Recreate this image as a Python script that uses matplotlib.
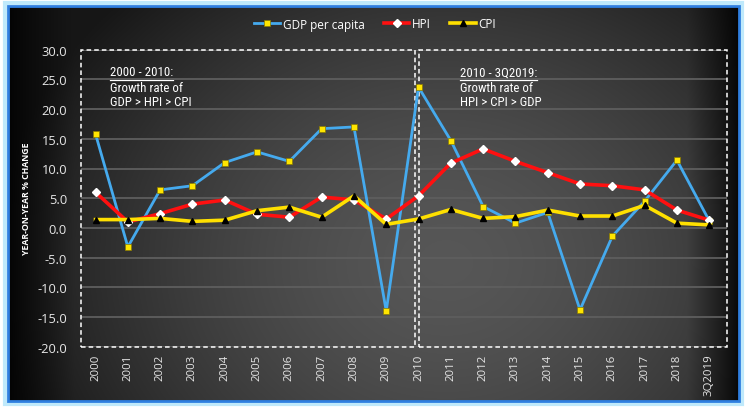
import numpy as np
import matplotlib
matplotlib.use("Agg")
import matplotlib.pyplot as plt
from matplotlib.lines import Line2D
from matplotlib.patches import Rectangle
import matplotlib.font_manager as fm

years = ["2000", "2001", "2002", "2003", "2004", "2005", "2006", "2007", "2008", "2009",
         "2010", "2011", "2012", "2013", "2014", "2015", "2016", "2017", "2018", "3Q2019"]
gdp_per_capita = [15.8, -3.2, 6.4, 7.1, 11.0, 12.8, 11.2, 16.7, 17.0, -14.0,
                  23.7, 14.7, 3.6, 0.8, 2.6, -13.8, -1.4, 4.5, 11.4, 1.2]
hpi = [6.0, 1.0, 2.4, 4.0, 4.7, 2.3, 1.8, 5.2, 4.7, 1.5,
       5.4, 10.9, 13.3, 11.2, 9.3, 7.4, 7.1, 6.4, 3.0, 1.3]
cpi = [1.4, 1.4, 1.6, 1.1, 1.3, 2.9, 3.5, 1.8, 5.4, 0.6,
       1.5, 3.1, 1.6, 1.9, 3.0, 2.0, 2.0, 3.8, 0.8, 0.5]
yticks = [-20, -15, -10, -5, 0, 5, 10, 15, 20, 25, 30]

def pick(fams):
    avail = {f.name for f in fm.fontManager.ttflist}
    for f in fams:
        if f in avail:
            return f
    return "DejaVu Sans"

FONT = pick(["Open Sans", "Lato", "DejaVu Sans"])
NARROW = pick(["Liberation Sans Narrow", "Roboto Condensed", "Liberation Sans"])
plt.rcParams['font.family'] = [FONT, 'DejaVu Sans']

W, H = 750, 410
fig = plt.figure(figsize=(W / 100, H / 100), dpi=100, facecolor="white")

# outer glow + border
fig.patches.append(Rectangle((5 / W, 1 - 405 / H), 737 / W, 401 / H, transform=fig.transFigure,
                             facecolor="none", edgecolor="#bfe9fb", lw=3, zorder=0))
# background panel gradient
bx0, by0, bx1, by1 = 8, 7, 739, 402
bg = fig.add_axes([bx0 / W, 1 - by1 / H, (bx1 - bx0) / W, (by1 - by0) / H], zorder=0)
nx, ny = 400, 220
u = np.linspace(0, 1, nx)[None, :]
v = np.linspace(0, 1, ny)[:, None]
d = np.sqrt(((u - 0.6) / 0.62) ** 2 + ((v - 0.65) / 0.95) ** 2)
b = 0.09 + 0.25 * np.clip(1 - d ** 1.6, 0, 1)
edge = np.clip(u / 0.09, 0, 1) ** 0.8 * np.clip((1 - u) / 0.07, 0, 1) ** 0.8
b = b * (0.15 + 0.85 * edge)
img = np.dstack([b, b, b])
bg.imshow(img, aspect="auto", extent=[0, 1, 0, 1], interpolation="bilinear")
bg.set_axis_off()
fig.patches.append(Rectangle((bx0 / W, 1 - by1 / H), (bx1 - bx0) / W, (by1 - by0) / H,
                             transform=fig.transFigure, facecolor="none",
                             edgecolor="#2f7fe0", lw=2, zorder=5))

ax = fig.add_axes([81 / W, 1 - 347.7 / H, (727 - 81) / W, (347.7 - 50.7) / H], zorder=2)
ax.patch.set_alpha(0)
x = np.arange(len(years))
ax.set_xlim(-0.45, 19.55)
ax.set_ylim(-20, 30)
ax.set_yticks(yticks)
ax.set_yticklabels([f"{t:.1f}" for t in yticks])
ax.set_xticks(x)
ax.set_xticklabels(years, rotation=90)
for s in ax.spines.values():
    s.set_visible(False)
ax.tick_params(length=0, colors="#e6e6e6")
ax.tick_params(axis="x", pad=5, labelsize=8.2)
ax.tick_params(axis="y", pad=10, labelsize=9.3)
for t in yticks:
    ax.axhline(t, color="#5e5e5e", lw=1.3, zorder=1)

# dashed boxes
ax.add_patch(Rectangle((-0.45, -20), 10.35, 50, fill=False, edgecolor="white", lw=1.1,
                       ls=(0, (3, 2)), zorder=2, clip_on=False))
ax.add_patch(Rectangle((10.0, -20), 9.55, 50, fill=False, edgecolor="white", lw=1.1,
                       ls=(0, (3, 2)), zorder=2, clip_on=False))

ax.plot(x, gdp_per_capita, color="#45aaee", lw=2, marker="s", ms=5,
        mfc="#ffe500", mec="#8a7a00", mew=0.5, zorder=4, label="GDP per capita")
ax.plot(x, hpi, color="#ff1010", lw=2.6, marker="D", ms=3.6,
        mfc="white", mec="white", zorder=5, label="HPI")
ax.plot(x, cpi, color="#ffe000", lw=2.6, marker="^", ms=4.5,
        mfc="black", mec="black", zorder=6, label="CPI")

ax.set_ylabel("YEAR-ON-YEAR % CHANGE", color="white", fontsize=6.3, fontweight="bold")
ax.yaxis.set_label_coords((31 - 81) / 646, 0.5)

# annotations
def block(x0, title, lines):
    tt = fig.text(x0 / W, 1 - 73 / H, title, color="white", fontsize=9.3, family=NARROW,
                  va="center", ha="left", zorder=10)
    fig.canvas.draw()
    bb = tt.get_window_extent()
    fig.add_artist(Line2D([bb.x0 / W, bb.x1 / W], [1 - 80.5 / H, 1 - 80.5 / H],
                          transform=fig.transFigure, color="white", lw=0.9))
    for i, ln in enumerate(lines):
        fig.text(x0 / W, 1 - (88 + 14.5 * i) / H, ln, color="white", fontsize=9.3,
                 family=NARROW, va="center", ha="left", zorder=10)

block(110, "2000 - 2010:", ["Growth rate of", "GDP > HPI > CPI"])
block(460, "2010 - 3Q2019:", ["Growth rate of", "HPI > CPI > GDP"])

leg = fig.legend(loc="center", bbox_to_anchor=(0.5, 1 - 25 / H), ncol=3, frameon=False,
                 fontsize=8.5, labelcolor="white", handlelength=2.2, columnspacing=1.6,
                 handletextpad=0.2)

fig.savefig("out.png", dpi=100, facecolor="white")
